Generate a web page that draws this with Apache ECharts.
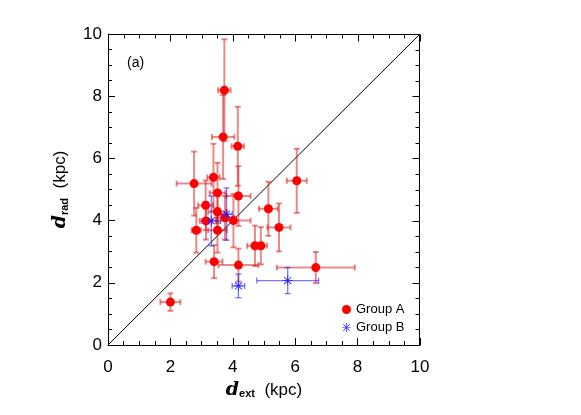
<!DOCTYPE html>
<html>
<head>
<meta charset="utf-8">
<script src="https://cdn.jsdelivr.net/npm/echarts@6/dist/echarts.min.js"></script>
<style>
  html, body { margin: 0; padding: 0; background: #fff; }
  #chart { width: 581px; height: 415px; }
</style>
</head>
<body>
<div id="chart"></div>
<script>
  // Group A: d_ext, d_rad and their errors (kpc)
  var groupAX = [2.00, 3.40, 4.18, 6.66, 4.71, 4.90, 2.83, 3.51, 5.48, 3.14, 3.75, 4.02, 3.51, 3.13, 5.14, 4.18, 3.51, 2.76, 3.38, 6.05, 4.16, 3.69, 3.73]
  var groupAY = [1.38, 2.68, 2.57, 2.49, 3.19, 3.19, 3.69, 3.69, 3.78, 3.99, 4.09, 4.00, 4.28, 4.49, 4.38, 4.79, 4.89, 5.19, 5.39, 5.28, 6.39, 6.69, 8.19]
  var groupAXErr = [0.32, 0.27, 0.64, 1.25, 0.25, 0.20, 0.15, 0.30, 0.37, 0.20, 0.30, 0.55, 0.30, 0.24, 0.30, 0.39, 0.25, 0.56, 0.20, 0.32, 0.20, 0.36, 0.20]
  var groupAYErr = [0.28, 0.53, 0.53, 0.50, 0.65, 0.60, 0.72, 0.72, 0.77, 0.60, 0.70, 0.86, 0.60, 0.80, 0.87, 0.96, 0.97, 1.03, 1.08, 1.03, 1.27, 1.35, 1.64]

  // Group B
  var groupBX = [3.31, 3.80, 4.18, 5.76]
  var groupBY = [3.99, 4.21, 1.90, 2.07]
  var groupBXErr = [0.30, 0.18, 0.20, 0.99]
  var groupBYErr = [0.80, 0.84, 0.38, 0.42]

  var axisTicks = [0, 2, 4, 6, 8, 10]
  var minorPerMajor = 4

  var starPath = 'path://M-0.8,-10 L0.8,-10 L0.8,10 L-0.8,10 Z M-10,-0.8 L10,-0.8 L10,0.8 L-10,0.8 Z ' +
    'M6.5,7.64 L7.64,6.5 L-6.5,-7.64 L-7.64,-6.5 Z M-6.5,7.64 L-7.64,6.5 L6.5,-7.64 L7.64,-6.5 Z'

  function pack (xs, ys, xe, ye) {
    return xs.map(function (x, i) { return [x, ys[i], xe[i], ye[i]] })
  }

  function seg (x1, y1, x2, y2, st) {
    return { type: 'line', shape: { x1: x1, y1: y1, x2: x2, y2: y2 }, style: st }
  }

  function errorBars (color, width) {
    return function (params, api) {
      var x = api.value(0), y = api.value(1), ex = api.value(2), ey = api.value(3)
      var l = api.coord([x - ex, y]), r = api.coord([x + ex, y])
      var t = api.coord([x, y + ey]), b = api.coord([x, y - ey])
      var cap = 3
      var st = { stroke: color, lineWidth: width }
      return {
        type: 'group',
        children: [
          seg(l[0], l[1], r[0], r[1], st),
          seg(t[0], t[1], b[0], b[1], st),
          seg(l[0], l[1] - cap, l[0], l[1] + cap, st),
          seg(r[0], r[1] - cap, r[0], r[1] + cap, st),
          seg(t[0] - cap, t[1], t[0] + cap, t[1], st),
          seg(b[0] - cap, b[1], b[0] + cap, b[1], st)
        ]
      }
    }
  }

  // top and right sides of the box, with inward ticks (IDL style)
  function boxSides (params, api) {
    var lo = axisTicks[0], hi = axisTicks[axisTicks.length - 1]
    var p0 = api.coord([lo, lo]), p1 = api.coord([hi, hi])
    var top = Math.round(p1[1]) + 0.5, right = Math.round(p1[0]) - 0.5
    var st = { stroke: '#000', lineWidth: 1 }
    var kids = [
      seg(p0[0], top, right + 0.5, top, st),
      seg(right, top, right, p0[1], st)
    ]
    var step = (axisTicks[1] - axisTicks[0]) / minorPerMajor
    for (var v = lo, k = 0; v <= hi + 1e-9; v += step, k++) {
      var len = (k % minorPerMajor === 0) ? 7 : 4
      var px = Math.round(api.coord([v, hi])[0]) + 0.5
      var py = Math.round(api.coord([hi, v])[1]) + 0.5
      kids.push(seg(px, top, px, top + len, st))
      kids.push(seg(right, py, right - len, py, st))
    }
    return { type: 'group', children: kids }
  }

  var fontFamily = 'Liberation Sans, Arial, sans-serif'

  function mainAxis (pos, name, nameGap, labelMargin) {
    return {
      type: 'value',
      position: pos,
      min: 0,
      max: 10,
      interval: 2,
      name: name,
      nameLocation: 'middle',
      nameGap: nameGap,
      nameTextStyle: {
        color: '#000',
        fontFamily: fontFamily,
        fontSize: 17,
        rich: {
          d: { fontFamily: 'DejaVu Serif', fontStyle: 'italic', fontWeight: 'bold', fontSize: 19, color: '#000' },
          sub: { fontFamily: fontFamily, fontWeight: 'bold', fontSize: 11, color: '#000', verticalAlign: 'bottom', padding: [8, 0, 0, 0] }
        }
      },
      axisLine: { show: true, onZero: false, lineStyle: { color: '#000', width: 1 } },
      axisTick: { show: true, inside: true, length: 7, lineStyle: { color: '#000' } },
      minorTick: { show: true, splitNumber: minorPerMajor, length: 4, lineStyle: { color: '#000' } },
      axisLabel: {
        color: '#000', fontFamily: fontFamily, fontSize: 17, margin: labelMargin,
        formatter: function (v) { return axisTicks.indexOf(v) >= 0 ? String(v) : '' }
      },
      splitLine: { show: false }
    }
  }

  var chart = echarts.init(document.getElementById('chart'))

  var option = {
    animation: false,
    grid: { left: 108, top: 34, width: 312, height: 311 },
    xAxis: mainAxis('bottom', '{d|d}{sub|ext}  (kpc)', 35, 14),
    yAxis: mainAxis('left', '{d|d}{sub|rad}  (kpc)', 38, 6),
    legend: {
      orient: 'vertical',
      left: 337,
      top: 298,
      itemWidth: 9,
      itemHeight: 9,
      itemGap: 5,
      textStyle: { color: '#000', fontFamily: fontFamily, fontSize: 13 },
      data: [
        { name: 'Group A', icon: 'circle', itemStyle: { color: '#ff0000' } },
        { name: 'Group B', icon: starPath, itemStyle: { color: '#2020ff' } }
      ]
    },
    graphic: [
      {
        type: 'text',
        left: 127,
        top: 56,
        style: { text: '(a)', fontFamily: fontFamily, fontSize: 14, fill: '#000' }
      }
    ],
    series: [
      {
        type: 'custom',
        renderItem: boxSides,
        data: [[0, 0]],
        clip: false,
        silent: true,
        z: 5
      },
      {
        // one-to-one line
        type: 'line',
        data: [[0, 0], [10, 10]],
        showSymbol: false,
        silent: true,
        lineStyle: { color: '#000', width: 1 },
        z: 1
      },
      {
        name: 'Group A',
        type: 'custom',
        renderItem: errorBars('rgba(215,20,20,0.5)', 2),
        itemStyle: { color: '#ff0000' },
        data: pack(groupAX, groupAY, groupAXErr, groupAYErr),
        encode: { x: 0, y: 1 },
        z: 2
      },
      {
        name: 'Group B',
        type: 'custom',
        renderItem: errorBars('rgba(30,30,255,0.6)', 1.3),
        itemStyle: { color: '#2020ff' },
        data: pack(groupBX, groupBY, groupBXErr, groupBYErr),
        encode: { x: 0, y: 1 },
        z: 2
      },
      {
        name: 'Group A',
        type: 'scatter',
        symbol: 'circle',
        symbolSize: 9,
        itemStyle: { color: '#ff0000', opacity: 1 },
        data: groupAX.map(function (x, i) { return [x, groupAY[i]] }),
        z: 3
      },
      {
        name: 'Group B',
        type: 'scatter',
        symbol: starPath,
        symbolSize: 10,
        itemStyle: { color: '#2020ff', opacity: 1 },
        data: groupBX.map(function (x, i) { return [x, groupBY[i]] }),
        z: 3
      }
    ]
  }

  chart.setOption(option)
</script>
</body>
</html>
